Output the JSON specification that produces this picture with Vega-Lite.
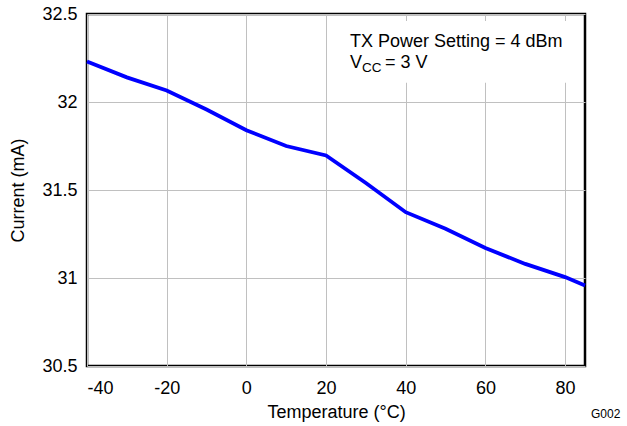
{
  "$schema": "https://vega.github.io/schema/vega-lite/v6.json",
  "autosize": {"type": "none"},
  "width": 498,
  "height": 352,
  "padding": {"left": 87, "top": 14, "right": 42, "bottom": 60},
  "background": "white",
  "config": {
    "font": "Liberation Sans",
    "view": {"stroke": "black", "strokeWidth": 2.5},
    "axis": {
      "domain": false,
      "ticks": false,
      "grid": true,
      "gridColor": "#c0c0c0",
      "gridWidth": 1,
      "gridOpacity": 1,
      "labelFont": "Liberation Sans",
      "labelFontSize": 18,
      "labelColor": "black",
      "labelExpr": "toString(datum.value)",
      "titleFont": "Liberation Sans",
      "titleFontSize": 18,
      "titleFontWeight": "normal",
      "titleColor": "black"
    }
  },
  "datasets": {
    "curve": [
      {"t": -40, "i": 32.23},
      {"t": -30, "i": 32.14},
      {"t": -20, "i": 32.065},
      {"t": -10, "i": 31.957},
      {"t": 0, "i": 31.84},
      {"t": 10, "i": 31.75},
      {"t": 20, "i": 31.696},
      {"t": 30, "i": 31.54},
      {"t": 40, "i": 31.374},
      {"t": 50, "i": 31.28},
      {"t": 60, "i": 31.17},
      {"t": 70, "i": 31.08},
      {"t": 80, "i": 31.005},
      {"t": 85, "i": 30.957}
    ],
    "box": [{"x1": 25, "x2": 83.5, "y1": 32.11, "y2": 32.46}],
    "labels": [
      {"x": 26, "y": 32.34, "label": "TX Power Setting = 4 dBm"}
    ],
    "vlabel": [{"x": 26, "y": 32.22, "label": "V"}],
    "cclabel": [{"x": 26, "y": 32.22, "label": "CC"}],
    "eqlabel": [{"x": 26, "y": 32.22, "label": "= 3 V"}],
    "code": [{"x": 85, "y": 30.23, "label": "G002"}]
  },
  "layer": [
    {
      "data": {"name": "box"},
      "mark": {"type": "rect", "fill": "white", "stroke": null},
      "encoding": {
        "x": {"field": "x1", "type": "quantitative", "scale": {"domain": [-40, 85], "nice": false, "zero": false},
          "axis": {"values": [-40, -20, 0, 20, 40, 60, 80], "title": "Temperature (°C)", "labelPadding": 13, "titlePadding": 6}},
        "x2": {"field": "x2"},
        "y": {"field": "y1", "type": "quantitative", "scale": {"domain": [30.5, 32.5], "nice": false, "zero": false},
          "axis": {"values": [30.5, 31, 31.5, 32, 32.5], "title": "Current (mA)", "labelPadding": 10, "titlePadding": 14}},
        "y2": {"field": "y2"}
      }
    },
    {
      "data": {"name": "curve"},
      "mark": {"type": "line", "color": "#0000ff", "strokeWidth": 3.8, "interpolate": "linear"},
      "encoding": {
        "x": {"field": "t", "type": "quantitative"},
        "y": {"field": "i", "type": "quantitative"}
      }
    },
    {
      "data": {"name": "labels"},
      "mark": {"type": "text", "align": "left", "baseline": "middle", "fontSize": 18, "color": "black"},
      "encoding": {
        "x": {"field": "x", "type": "quantitative"},
        "y": {"field": "y", "type": "quantitative"},
        "text": {"field": "label"}
      }
    },
    {
      "data": {"name": "vlabel"},
      "mark": {"type": "text", "align": "left", "baseline": "middle", "fontSize": 18, "color": "black"},
      "encoding": {
        "x": {"field": "x", "type": "quantitative"},
        "y": {"field": "y", "type": "quantitative"},
        "text": {"field": "label"}
      }
    },
    {
      "data": {"name": "cclabel"},
      "mark": {"type": "text", "align": "left", "baseline": "middle", "fontSize": 13.5, "dx": 12, "dy": 5, "color": "black"},
      "encoding": {
        "x": {"field": "x", "type": "quantitative"},
        "y": {"field": "y", "type": "quantitative"},
        "text": {"field": "label"}
      }
    },
    {
      "data": {"name": "eqlabel"},
      "mark": {"type": "text", "align": "left", "baseline": "middle", "fontSize": 18, "dx": 35, "color": "black"},
      "encoding": {
        "x": {"field": "x", "type": "quantitative"},
        "y": {"field": "y", "type": "quantitative"},
        "text": {"field": "label"}
      }
    },
    {
      "data": {"name": "code"},
      "mark": {"type": "text", "align": "left", "baseline": "middle", "fontSize": 12, "dx": 6, "clip": false, "color": "black"},
      "encoding": {
        "x": {"field": "x", "type": "quantitative"},
        "y": {"field": "y", "type": "quantitative"},
        "text": {"field": "label"}
      }
    }
  ]
}
